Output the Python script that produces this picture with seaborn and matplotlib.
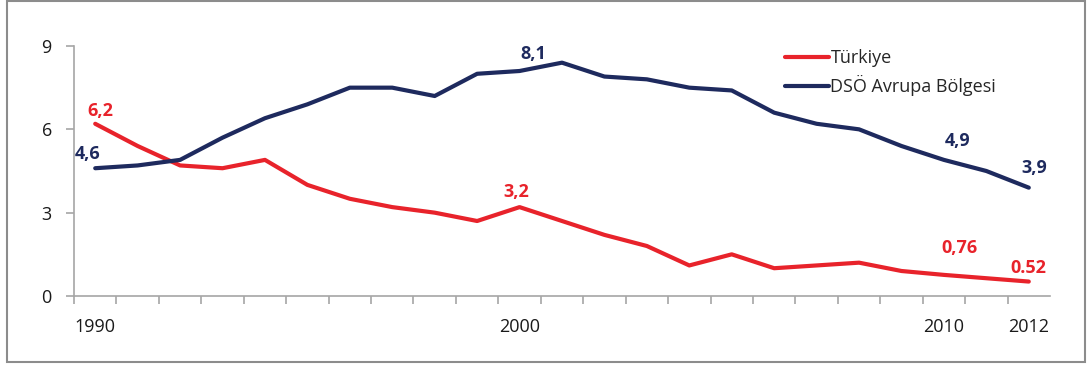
import matplotlib
matplotlib.use("Agg")
import matplotlib.pyplot as plt
import seaborn as sns
import pandas as pd
from matplotlib.patches import Rectangle
from matplotlib.ticker import FixedLocator
from matplotlib.lines import Line2D

years = list(range(1990, 2013))
turkiye = [6.2, 5.4, 4.7, 4.6, 4.9, 4.0, 3.5, 3.2, 3.0, 2.7, 3.2, 2.7, 2.2, 1.8,
           1.1, 1.5, 1.0, 1.1, 1.2, 0.9, 0.76, 0.64, 0.52]
avrupa = [4.6, 4.7, 4.9, 5.7, 6.4, 6.9, 7.5, 7.5, 7.2, 8.0, 8.1, 8.4, 7.9, 7.8,
          7.5, 7.4, 6.6, 6.2, 6.0, 5.4, 4.9, 4.5, 3.9]
series_names = ["Türkiye", "DSÖ Avrupa Bölgesi"]
x_tick_years = [1990, 2000, 2010, 2012]
y_ticks = [0, 3, 6, 9]
# point labels: (series, year, text)
point_labels = [
    ("Türkiye", 1990, "6,2"), ("Türkiye", 2000, "3,2"), ("Türkiye", 2010, "0,76"),
    ("Türkiye", 2012, "0.52"),
    ("DSÖ Avrupa Bölgesi", 1990, "4,6"), ("DSÖ Avrupa Bölgesi", 2000, "8,1"),
    ("DSÖ Avrupa Bölgesi", 2010, "4,9"), ("DSÖ Avrupa Bölgesi", 2012, "3,9"),
]

RED = "#E8232B"
NAVY = "#1E2A5E"
GRAY = "#A6A6A6"

sns.set_theme(style="white")
plt.rcParams["font.family"] = ["Open Sans", "DejaVu Sans"]

idx = list(range(len(years)))
df = pd.DataFrame({
    "idx": idx * 2,
    "value": turkiye + avrupa,
    "series": [series_names[0]] * len(years) + [series_names[1]] * len(years),
})

fig = plt.figure(figsize=(10.87, 3.70), dpi=100)
ax = fig.add_axes([74 / 1087, 1 - 296 / 370, (1050 - 74) / 1087, (296 - 46) / 370])

sns.lineplot(data=df, x="idx", y="value", hue="series",
             palette={series_names[0]: RED, series_names[1]: NAVY},
             linewidth=3.0, ax=ax, legend=False, sort=False)

ax.set_xlim(-0.5, len(years) - 0.5)
ax.set_ylim(0, 9)
ax.set_xlabel("")
ax.set_ylabel("")

for s in ["top", "right"]:
    ax.spines[s].set_visible(False)
for s in ["left", "bottom"]:
    ax.spines[s].set_color(GRAY)
    ax.spines[s].set_linewidth(1.2)

ax.set_yticks(y_ticks)
ax.set_yticklabels([str(v) for v in y_ticks], fontsize=13, color="#1a1a1a")
ax.tick_params(axis="y", which="major", direction="out", length=6, width=1.2,
               color=GRAY, pad=10, left=True)

ax.set_xticks([years.index(y) for y in x_tick_years])
ax.set_xticklabels([str(y) for y in x_tick_years], fontsize=13, color="#1a1a1a")
ax.tick_params(axis="x", which="major", length=0, pad=16)
ax.xaxis.set_minor_locator(FixedLocator([i - 0.5 for i in range(len(years))]))
ax.tick_params(axis="x", which="minor", direction="out", length=6, width=1.2,
               color=GRAY, bottom=True)
ax.grid(False)

series_vals = {series_names[0]: turkiye, series_names[1]: avrupa}
colors = {series_names[0]: RED, series_names[1]: NAVY}
offsets = {
    ("Türkiye", 1990): (5, 4), ("Türkiye", 2000): (-3, 6), ("Türkiye", 2010): (16, 18),
    ("Türkiye", 2012): (0, 5),
    ("DSÖ Avrupa Bölgesi", 1990): (-8, 5), ("DSÖ Avrupa Bölgesi", 2000): (14, 8),
    ("DSÖ Avrupa Bölgesi", 2010): (14, 10), ("DSÖ Avrupa Bölgesi", 2012): (5, 11),
}
for s, yr, txt in point_labels:
    i = years.index(yr)
    ax.annotate(txt, (i, series_vals[s][i]), xytext=offsets[(s, yr)],
                textcoords="offset pixels", ha="center", va="bottom",
                fontsize=13, fontweight="bold", color=colors[s])

handles = [Line2D([], [], color=RED, lw=3.0), Line2D([], [], color=NAVY, lw=3.0)]
leg = fig.legend(handles, series_names, loc="upper left",
                 bbox_to_anchor=(769 / 1087, 1 - 33 / 370), frameon=False,
                 fontsize=13, handlelength=2.4, handletextpad=0.1,
                 labelspacing=0.45)

fig.patches.append(Rectangle((7 / 1087, 1 - 362 / 370), (1085 - 7) / 1087,
                             (362 - 1) / 370, transform=fig.transFigure,
                             fill=False, edgecolor="#8c8c8c", linewidth=1.5))

fig.savefig("out.png", dpi=100)
